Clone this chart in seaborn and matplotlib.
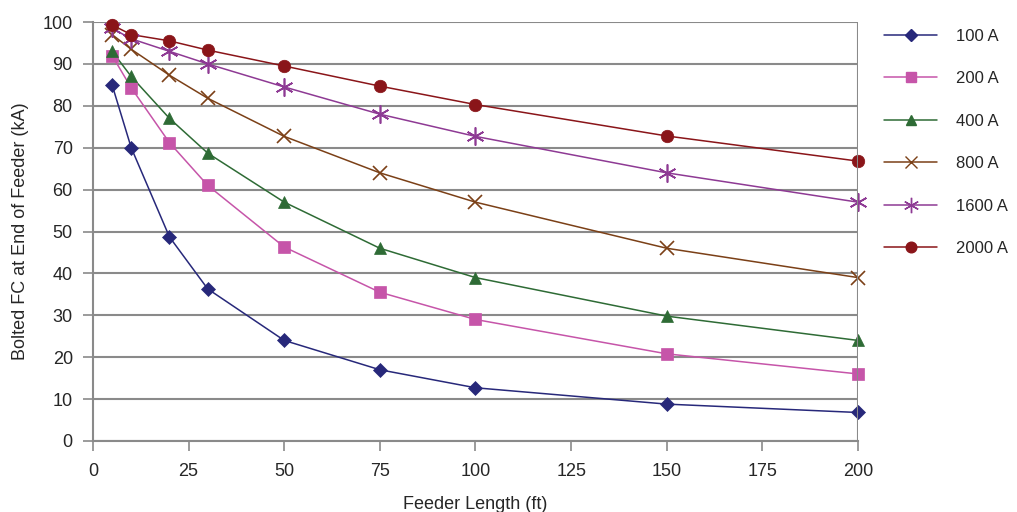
import pandas as pd
import matplotlib.pyplot as plt
import seaborn as sns

# Dados
comprimento = [5, 10, 20, 30, 50, 75, 100, 150, 200]
serie_100 = [85, 70, 48.7, 36.3, 24, 17, 12.7, 8.8, 6.8]
serie_200 = [92, 84.3, 71.2, 61, 46.3, 35.5, 29, 20.8, 16]
serie_400 = [93, 87, 77, 68.7, 57, 46, 39, 29.8, 24]
serie_800 = [97, 93.5, 87.3, 81.8, 72.7, 64, 57, 46, 39]
serie_1600 = [98.5, 96, 93, 90, 84.5, 78, 72.7, 64, 57]
serie_2000 = [99.3, 97, 95.5, 93.3, 89.5, 84.7, 80.3, 72.8, 66.8]
rotulos = ['100 A', '200 A', '400 A', '800 A', '1600 A', '2000 A']

series = [serie_100, serie_200, serie_400, serie_800, serie_1600, serie_2000]
df = pd.concat(
    [pd.DataFrame({'comprimento': comprimento, 'fc': s, 'serie': r})
     for s, r in zip(series, rotulos)],
    ignore_index=True
)

cores = ['#27287A', '#C655A9', '#2E6B35', '#7B4017', '#8E3A94', '#8A1519']
marcadores = ['D', 's', '^', 'x', (6, 2, 0), 'o']
tamanhos = [7, 8, 9, 10, 13, 9]

sns.set_style('white')
plt.rcParams['font.family'] = ['Liberation Sans', 'DejaVu Sans']

fig = plt.figure(figsize=(10.17, 5.12), dpi=100)
ax = fig.add_axes([0.0914, 0.1387, 0.7523, 0.8183])

sns.lineplot(data=df, x='comprimento', y='fc', hue='serie', palette=cores,
             hue_order=rotulos, legend=False, ax=ax, linewidth=1.1)

# Marcadores por série
for r, c, m, t in zip(rotulos, cores, marcadores, tamanhos):
    sub = df[df['serie'] == r]
    ax.plot(sub['comprimento'], sub['fc'], linestyle='none', marker=m,
            markersize=t, color=c, markeredgecolor=c, clip_on=False,
            markeredgewidth=1.2 if m in ('x', (6, 2, 0)) else 0.5)

# Legenda manual
handles = [plt.Line2D([], [], color=c, marker=m, markersize=t * 0.85,
                      markeredgecolor=c, linewidth=1.1)
           for c, m, t in zip(cores, marcadores, tamanhos)]
ax.legend(handles, rotulos, loc='upper left', bbox_to_anchor=(1.025, 1.0),
          frameon=False, fontsize=12, handlelength=3.2, handletextpad=1.1,
          labelspacing=1.65, borderaxespad=0)

ax.set_xlim(0, 200)
ax.set_ylim(0, 100)
ax.set_xticks(range(0, 201, 25))
ax.set_yticks(range(0, 101, 10))
ax.grid(axis='y', color='#8a8a8a', linewidth=1.5)
ax.grid(axis='x', visible=False)
ax.axvline(200, color='#8a8a8a', linewidth=1.5)

for lado in ['top', 'right']:
    ax.spines[lado].set_visible(False)
for lado in ['left', 'bottom']:
    ax.spines[lado].set_color('#8a8a8a')
    ax.spines[lado].set_linewidth(1.5)
ax.tick_params(axis='both', direction='out', length=7.5, width=1.2,
               color='#8a8a8a', labelsize=13, pad=7, bottom=True, left=True)
ax.tick_params(axis='x', pad=8)

ax.set_xlabel('Feeder Length (ft)', fontsize=13, labelpad=12)
ax.set_ylabel('Bolted FC at End of Feeder (kA)', fontsize=13, labelpad=10)

plt.savefig('out.png', dpi=100)
